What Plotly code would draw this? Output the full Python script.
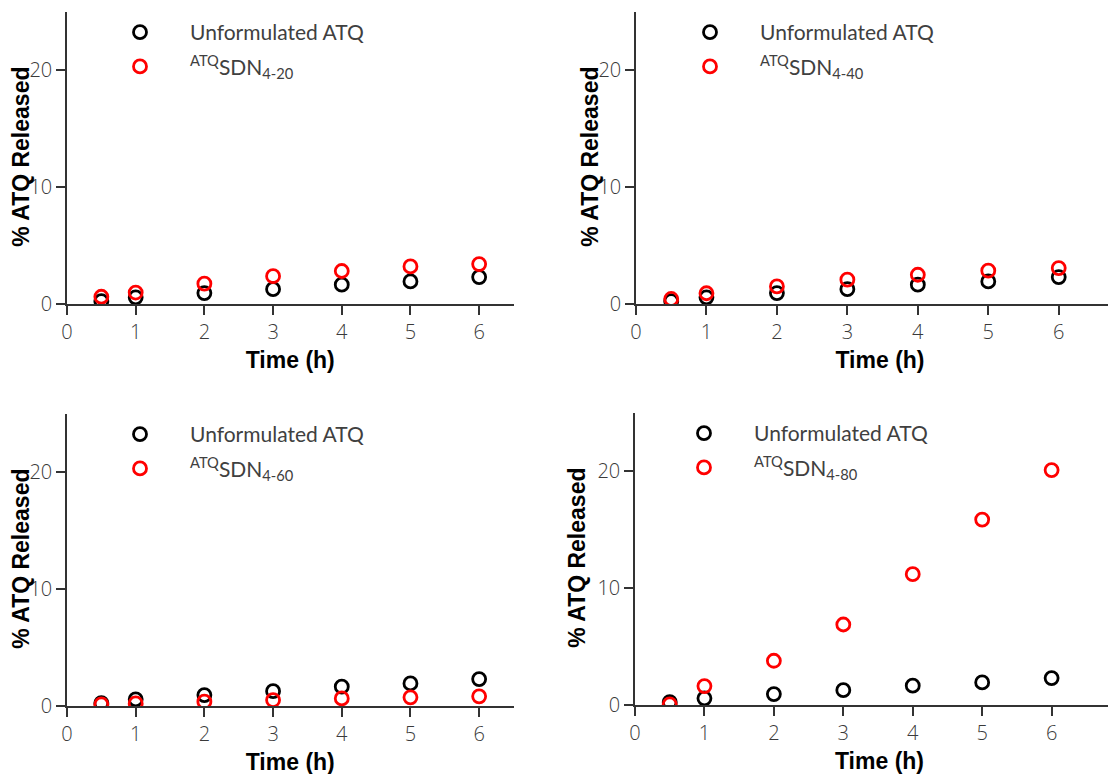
import plotly.graph_objects as go

# ---- data ----
time_h = [0.5, 1, 2, 3, 4, 5, 6]
unformulated_atq = [0.25, 0.57, 0.93, 1.27, 1.65, 1.93, 2.3]
sdn_4_20 = [0.62, 0.98, 1.74, 2.38, 2.82, 3.21, 3.41]
sdn_4_40 = [0.43, 0.92, 1.5, 2.08, 2.5, 2.85, 3.07]
sdn_4_60 = [0.14, 0.22, 0.37, 0.51, 0.65, 0.74, 0.83]
sdn_4_80 = [0.06, 1.62, 3.78, 6.88, 11.18, 15.85, 20.08]
x_ticks = [0, 1, 2, 3, 4, 5, 6]
y_ticks = [0, 10, 20]
formulations = ["4-20", "4-40", "4-60", "4-80"]
sdn_series = [sdn_4_20, sdn_4_40, sdn_4_60, sdn_4_80]

W, H = 1116, 774
OX, OY = 8, 8  # page body margin offset
fig = go.Figure()

panels = [
    dict(xl=67, xr=513.5, xmax=6.5, yb=304, yt=11.5, lx=90, ly=12, tx=21),
    dict(xl=636, xr=1116 + OX, xmax=(1116 - 636) / 69.3, yb=304, yt=11.5, lx=660, ly=12, tx=590),
    dict(xl=67, xr=513.5, xmax=6.5, yb=706, yt=413.5, lx=90, ly=414, tx=21),
    dict(xl=635, xr=1116 + OX, xmax=(1116 - 635) / 68.3, yb=705, yt=412.5, lx=654, ly=413, tx=577),
]

tick_font = dict(family="Open Sans, Liberation Sans, sans-serif", size=20, color="#3a3a3a",
                 weight=300)
title_font = dict(family="Liberation Sans, Arial, sans-serif", size=23, color="#000000")
legend_font = dict(family="Lato, Calibri, sans-serif", size=21, color="#404040")

annotations = []
for i, (p, lab, ser) in enumerate(zip(panels, formulations, sdn_series)):
    n = "" if i == 0 else str(i + 1)
    lg = "legend" if i == 0 else f"legend{i + 1}"
    fig.add_trace(go.Scatter(
        x=time_h, y=unformulated_atq, mode="markers", name="Unformulated ATQ",
        marker=dict(symbol="circle-open", size=13, color="#000000", line=dict(width=2.8)),
        xaxis="x" + n, yaxis="y" + n, legend=lg, legendgroup=f"u{i}",
    ))
    fig.add_trace(go.Scatter(
        x=time_h, y=ser, mode="markers", name=f"<sup>ATQ</sup>SDN<sub>{lab}</sub>",
        marker=dict(symbol="circle-open", size=13, color="#ff0000", line=dict(width=2.8)),
        xaxis="x" + n, yaxis="y" + n, legend=lg, legendgroup=f"s{i}",
    ))
    xl, xr = p["xl"] - OX, p["xr"] - OX
    yb, yt = p["yb"] - OY, p["yt"] - OY
    xd = [xl / W, min(xr / W, 1.0)]
    yd = [(H - yb) / H, (H - yt) / H]
    common = dict(showgrid=False, zeroline=False, showline=True, linecolor="#333333", linewidth=1.5,
                  ticks="outside", ticklen=9, tickwidth=1.5, tickcolor="#333333", tickfont=tick_font,
                  automargin=False)
    fig.update_layout({
        "xaxis" + n: dict(domain=xd, range=[0, p["xmax"]], tickvals=x_ticks, anchor="y" + n,
                          title=dict(text="<b>Time (h)</b>", font=title_font, standoff=8), **common),
        "yaxis" + n: dict(domain=yd, range=[0, 25], tickvals=y_ticks, anchor="x" + n, **common),
        lg: dict(x=(p["lx"] - OX) / W, y=(H - (p["ly"] - OY)) / H, xanchor="left", yanchor="top",
                 xref="paper", yref="paper", bgcolor="rgba(0,0,0,0)", font=legend_font,
                 itemwidth=90, tracegroupgap=4, traceorder="grouped"),
    })
    annotations.append(dict(
        text="<b>% ATQ Released</b>", textangle=-90, font=title_font, showarrow=False,
        xref="paper", yref="paper", x=(p["tx"] - OX) / W, y=(H - ((yb + yt) / 2 - 1)) / H,
        xanchor="center", yanchor="middle",
    ))

fig.update_layout(
    width=W, height=H, margin=dict(l=0, r=0, t=0, b=0, autoexpand=False),
    paper_bgcolor="white", plot_bgcolor="white", showlegend=True, annotations=annotations,
)

fig.write_html("out.html")
